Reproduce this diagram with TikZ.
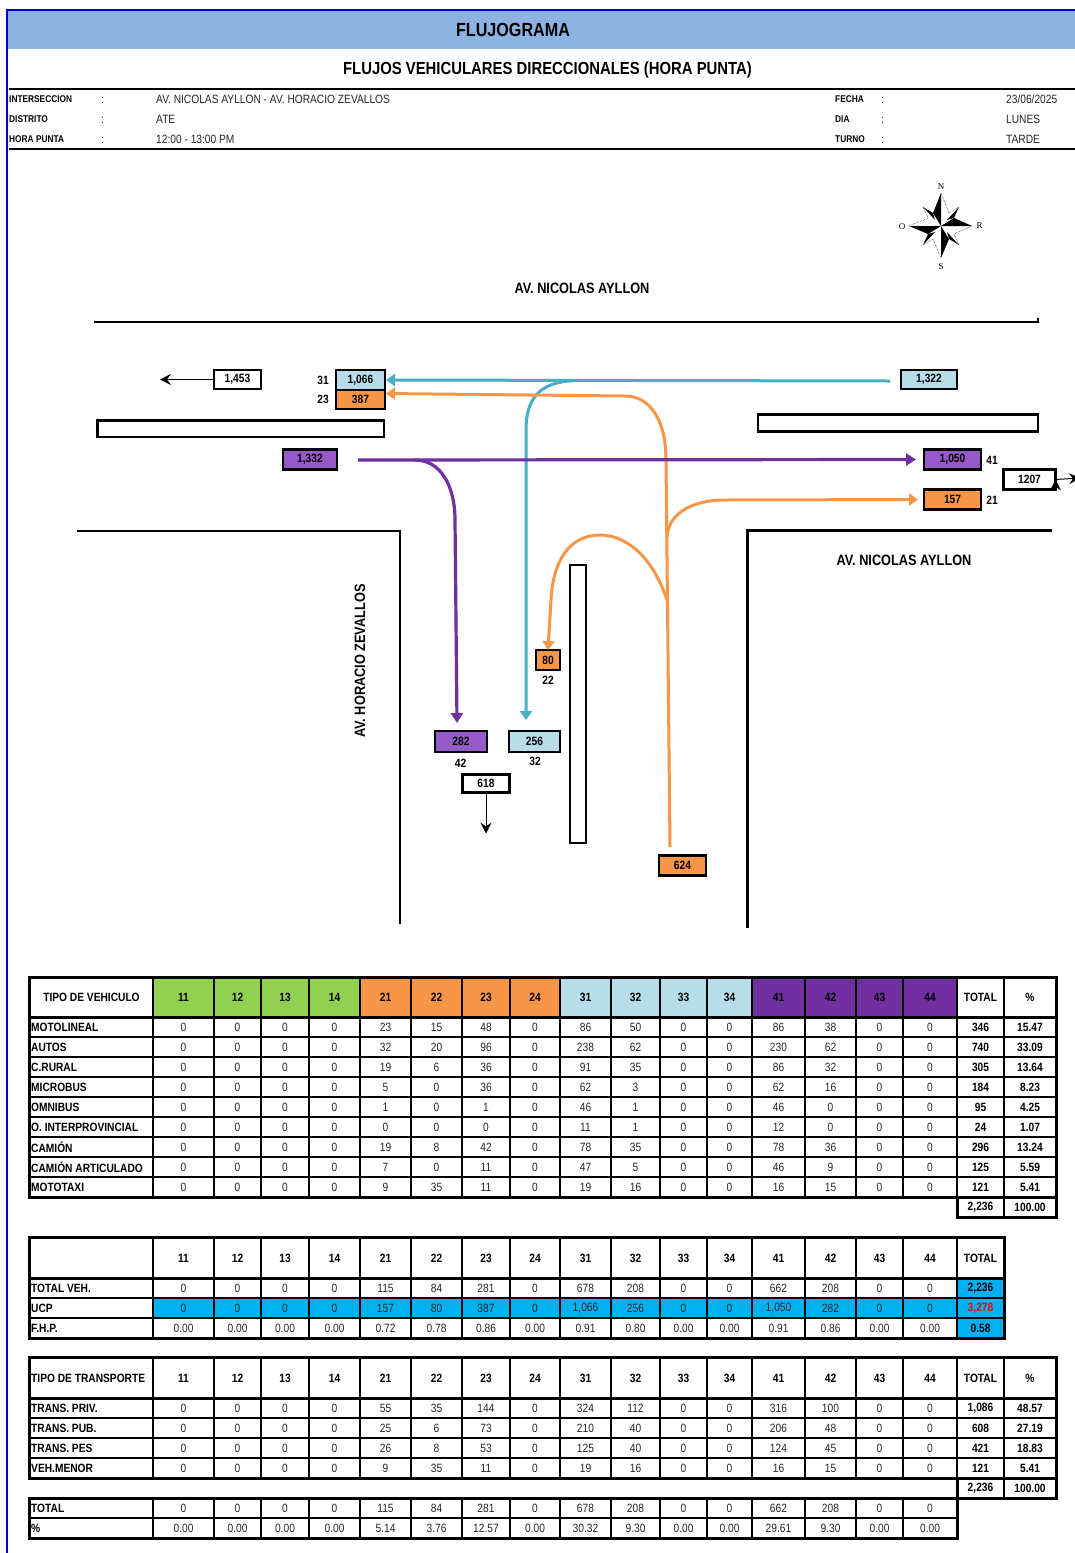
\documentclass[tikz,border=0pt]{standalone}
\usepackage{fontspec}
\setmainfont[FakeStretch=0.85]{Liberation Sans}
\newfontfamily\compassfont{Liberation Serif}
\usetikzlibrary{arrows.meta}
\definecolor{bandblue}{HTML}{8DB3E2}
\definecolor{framblue}{HTML}{0000C8}
\definecolor{hgreen}{HTML}{92D050}
\definecolor{horange}{HTML}{F79646}
\definecolor{hlight}{HTML}{B7DDE8}
\definecolor{hpurple}{HTML}{7030A0}
\definecolor{boxpurple}{HTML}{9559C8}
\definecolor{lteal}{HTML}{4BACC6}
\definecolor{ucpblue}{HTML}{00B0F0}
\definecolor{txtgray}{HTML}{262626}
\def\colx{{183.5,237.5,285,334.5,385.5,436.5,486,535,585.5,635.5,683.5,729.5,778.5,830.5,879.5,930,980.5,1030}}
\newcommand\fpx[1]{\fontsize{#1}{#1}\selectfont}
\newcommand\datarow[5][]{%
  \node[rowlab] (#2L) at (31,#3) {#4};
  \foreach \v [count=\i] in {#5} {
    \pgfmathsetmacro\cx{\colx[\i-1]}
    \ifnum\i>16\relax
      \node[cellb,#1] (#2c\i) at (\cx,#3) {\v};
    \else
      \node[cell] (#2c\i) at (\cx,#3) {\v};
    \fi
  }%
}
\newcommand\headrow[2]{%
  \foreach \v [count=\i] in {11,12,13,14,21,22,23,24,31,32,33,34,41,42,43,44} {
    \pgfmathsetmacro\cx{\colx[\i-1]}
    \ifnum\i>12\relax
      \node[cellh,text=#2] (h#1c\i) at (\cx,#1) {\v};
    \else
      \node[cellh] (h#1c\i) at (\cx,#1) {\v};
    \fi
  }%
}
\tikzset{
  cell/.style={font=\fpx{12},text=txtgray,inner sep=0pt},
  cellb/.style={font=\fpx{12}\bfseries,text=black,inner sep=0pt},
  cellh/.style={font=\fpx{12}\bfseries,text=black,inner sep=0pt},
  rowlab/.style={font=\fpx{12}\bfseries,text=black,anchor=west,inner sep=0pt},
  infolab/.style={font=\fpx{9.8}\bfseries,anchor=west,inner sep=0pt},
  infoval/.style={font=\fpx{12},text=txtgray,anchor=west,inner sep=0pt},
  road/.style={font=\fpx{15}\bfseries,inner sep=0pt},
  vallab/.style={font=\fpx{12}\bfseries,inner sep=0pt},
  valbox/.style={draw=black,line width=2.6pt,inner sep=0pt,font=\fpx{12}\bfseries,outer sep=0pt},
  wall/.style={draw=black,line width=2.4pt,line cap=rect},
  tealway/.style={draw=lteal,line width=3pt,-{Triangle[length=9pt,width=12pt]}},
  orangeway/.style={draw=horange,line width=3pt,-{Triangle[length=9pt,width=12pt]}},
  purpleway/.style={draw=hpurple,line width=3.2pt,-{Triangle[length=10pt,width=12pt]}},
  exitway/.style={draw=black,line width=1pt,-{Stealth[length=11pt,width=11pt,inset=4pt]}},
  gv/.style={line width=2.5pt},
  gh/.style={line width=2pt},
  gt/.style={line width=3pt},
  ray/.style={line width=.5pt,densely dotted},
  cdir/.style={font=\compassfont\fpx{9},inner sep=0pt},
}
\begin{document}
\begin{tikzpicture}[x=1pt,y=-1pt]
\useasboundingbox (0,0) rectangle (1075,1553);
\clip (0,0) rectangle (1075,1553);
\fill[white] (0,0) rectangle (1075,1553);
% header
\fill[bandblue] (8,11) rectangle (1075,49);
\draw[framblue,line width=2.5pt] (1075,10) -- (7,10) -- (7,1553);
\node[font=\fpx{19}\bfseries,inner sep=0pt] (title) at (513,30) {FLUJOGRAMA};
\node[font=\fpx{17.5}\bfseries,inner sep=0pt] (subtitle) at (547.5,70) {FLUJOS VEHICULARES DIRECCIONALES (HORA PUNTA)};
\draw[line width=2.5pt] (9,89) -- (1075,89);
\draw[line width=2.5pt] (9,149) -- (1075,149);
\node[infolab] (i1) at (9,99.5) {INTERSECCION};
\node[infolab] (i2) at (9,119.5) {DISTRITO};
\node[infolab] (i3) at (9,139.5) {HORA PUNTA};
\node[infoval] (c1) at (101,100) {:};
\node[infoval] (c2) at (101,120) {:};
\node[infoval] (c3) at (101,140) {:};
\node[infoval] (v1) at (156,99.5) {AV. NICOLAS AYLLON - AV. HORACIO ZEVALLOS};
\node[infoval] (v2) at (156,119.5) {ATE};
\node[infoval] (v3) at (156,139.5) {12:00 - 13:00 PM};
\node[infolab] (i4) at (835,99.5) {FECHA};
\node[infolab] (i5) at (835,119.5) {DIA};
\node[infolab] (i6) at (835,139.5) {TURNO};
\node[infoval] (c4) at (881,100) {:};
\node[infoval] (c5) at (881,120) {:};
\node[infoval] (c6) at (881,140) {:};
\node[infoval] (v4) at (1006,99.5) {23/06/2025};
\node[infoval] (v5) at (1006,119.5) {LUNES};
\node[infoval] (v6) at (1006,139.5) {TARDE};
% compass
\begin{scope}[shift={(941,226)}]
  \draw[ray] (0,-33) -- (8,-13) (31,0) -- (13,8) (0,32) -- (-8,13) (-32,0) -- (-13,-8);
  \draw[ray] (-18,-19) -- (-13,-8) (18,-19) -- (8,-13) (18,19) -- (13,8) (-18,19) -- (-8,13);
  \fill (0,0) -- (0,-33) -- (-8,-13) -- cycle;
  \fill (0,0) -- (31,0) -- (13,-8) -- cycle;
  \fill (0,0) -- (0,32) -- (8,13) -- cycle;
  \fill (0,0) -- (-32,0) -- (-13,8) -- cycle;
  \fill (-18,-19) -- (-8,-13) -- (-6,-6) -- cycle;
  \fill (18,-19) -- (13,-8) -- (6,-6) -- cycle;
  \fill (18,19) -- (8,13) -- (6,6) -- cycle;
  \fill (-18,19) -- (-13,8) -- (-6,6) -- cycle;
\end{scope}
\node[cdir] (cn) at (941,186.5) {N};
\node[cdir] (cs) at (941,266.5) {S};
\node[cdir] (co) at (902,227) {O};
\node[cdir] (cr) at (979.5,226) {R};
% road geometry
\node[road] (rn1) at (582,288) {AV. NICOLAS AYLLON};
\node[road] (rn2) at (904,560) {AV. NICOLAS AYLLON};
\node[road,rotate=90] (rh) at (360,661) {AV. HORACIO ZEVALLOS};
\draw[wall] (95,322) -- (1038,322) -- (1038,319);
\draw[wall] (78,531) -- (400,531) -- (400,923);
\draw[wall] (1051,530.5) -- (747.5,530.5) -- (747.5,927);
\draw[wall,fill=white] (97.5,420.5) rectangle (384,437);
\draw[wall,fill=white] (758,414.5) rectangle (1038,431.5);
\draw[wall,fill=white] (570,565) rectangle (586,843);
% value boxes
\node[valbox,minimum width=47pt,minimum height=19pt] (n1453) at (237.5,379.5) {1,453};
\node[valbox,fill=hlight,minimum width=49pt,minimum height=20pt] (n1066) at (360.5,380) {1,066};
\node[valbox,fill=horange,minimum width=49pt,minimum height=19pt] (n387) at (360.5,399.5) {387};
\node[valbox,fill=boxpurple,minimum width=54pt,minimum height=20pt] (n1332) at (310,459.5) {1,332};
\node[valbox,fill=hlight,minimum width=56pt,minimum height=19pt] (n1322) at (929,379.5) {1,322};
\node[valbox,fill=boxpurple,minimum width=57pt,minimum height=20pt] (n1050) at (952.5,459.5) {1,050};
\node[valbox,fill=horange,minimum width=57pt,minimum height=19.5pt] (n157) at (952.5,499.5) {157};
\node[valbox,minimum width=52pt,minimum height=19.5pt] (n1207) at (1029.5,479.5) {1207};
\node[valbox,fill=horange,minimum width=24pt,minimum height=20pt] (n80) at (548,660) {80};
\node[valbox,fill=boxpurple,minimum width=52pt,minimum height=21pt] (n282) at (461,741.5) {282};
\node[valbox,fill=hlight,minimum width=51pt,minimum height=21pt] (n256) at (534.5,741.5) {256};
\node[valbox,minimum width=47pt,minimum height=18.5pt] (n618) at (486,783.5) {618};
\node[valbox,fill=horange,minimum width=47pt,minimum height=20pt] (n624) at (682.5,865.5) {624};
\node[vallab] (l31) at (323,380) {31};
\node[vallab] (l23) at (323,399.5) {23};
\node[vallab] (l41) at (992,460) {41};
\node[vallab] (l21) at (992,500) {21};
\node[vallab] (l22) at (548,680.5) {22};
\node[vallab] (l42) at (460.5,763.5) {42};
\node[vallab] (l32) at (535,761.5) {32};
% connectors
\coordinate (teal0) at (890,381);
\coordinate (teal1) at (580,380.5);
\coordinate (teal2) at (526,720);
\coordinate (or0) at (670,847);
\coordinate (orA) at (667,600);
\coordinate (orB) at (667,537);
\coordinate (pu0) at (358,460);
\coordinate (pu1) at (415,460);
\coordinate (x1453) at (160,379.5);
\coordinate (x618) at (486,833.5);
\coordinate (x1207) at (1080,478);
\path[exitway] (n1453.west) edge (x1453) (n618.south) edge (x618) (n1207.east) edge (x1207);
\draw[tealway,shorten >=1pt] (teal0) -- (n1066.east);
\draw[tealway] (teal1) .. controls (545,380.5) and (526,393) .. (526,430) -- (teal2);
\draw[orangeway,shorten >=1pt] (or0) -- (666,460) .. controls (666,420) and (650,396) .. (625,396) -- ([yshift=-3.5pt]n1066.south east);
\draw[orangeway,shorten >=6pt] (orB) .. controls (668,515) and (690,500) .. (725,500) -- (n157.west);
\draw[orangeway] (orA) .. controls (652,555) and (625,535) .. (600,535) .. controls (570,535) and (553,560) .. (551,600) -- (n80.north);
\draw[purpleway,shorten >=8pt] (pu0) -- (n1050.west);
\draw[draw=hpurple,line width=3.2pt,-{Triangle[length=10pt,width=12pt]}] (pu1) .. controls (440,460) and (455,485) .. (455,520) -- (457,723);
% ------------- table 1 -------------
\fill[hgreen] (153,977) rectangle (360,1017);
\fill[horange] (360,977) rectangle (560,1017);
\fill[hlight] (560,977) rectangle (752,1017);
\fill[hpurple] (752,977) rectangle (957,1017);
\foreach \x in {153,214,261,309,360,411,462,510,560,611,660,707,752,805,856,903,957,1004}
  \draw[gv] (\x,977) -- (\x,1197);
\foreach \y in {1037,1057,1077,1097,1117,1137,1157,1177}
  \draw[gh] (29,\y) -- (1056,\y);
\draw[gv] (957,1197) -- (957,1217) (1004,1197) -- (1004,1217);
\draw[gt] (29,1017) -- (1056,1017);
\draw[gt] (29,977) rectangle (1056,1197);
\draw[gt] (957,1197) rectangle (1056,1217);
\node[cellh] (t1head) at (91.5,997) {TIPO DE VEHICULO};
\headrow{997}{black}
\node[cellh] (t1tot) at (980.5,997) {TOTAL};
\node[cellh] (t1pct) at (1030,997) {\%};
\datarow{ra}{1027}{MOTOLINEAL}{0,0,0,0,23,15,48,0,86,50,0,0,86,38,0,0,346,15.47}
\datarow{rb}{1047}{AUTOS}{0,0,0,0,32,20,96,0,238,62,0,0,230,62,0,0,740,33.09}
\datarow{rc}{1067}{C.RURAL}{0,0,0,0,19,6,36,0,91,35,0,0,86,32,0,0,305,13.64}
\datarow{rd}{1087}{MICROBUS}{0,0,0,0,5,0,36,0,62,3,0,0,62,16,0,0,184,8.23}
\datarow{re}{1107}{OMNIBUS}{0,0,0,0,1,0,1,0,46,1,0,0,46,0,0,0,95,4.25}
\datarow{rf}{1127}{O. INTERPROVINCIAL}{0,0,0,0,0,0,0,0,11,1,0,0,12,0,0,0,24,1.07}
\datarow{rg}{1147}{CAMIÓN}{0,0,0,0,19,8,42,0,78,35,0,0,78,36,0,0,296,13.24}
\datarow{rh}{1167}{CAMIÓN ARTICULADO}{0,0,0,0,7,0,11,0,47,5,0,0,46,9,0,0,125,5.59}
\datarow{ri}{1187}{MOTOTAXI}{0,0,0,0,9,35,11,0,19,16,0,0,16,15,0,0,121,5.41}
\node[cellb] (t1sum) at (980.5,1207) {2,236};
\node[cellb] (t1sump) at (1030,1207) {100.00};
% ------------- table 2 -------------
\fill[ucpblue] (153,1298) rectangle (957,1318);
\fill[ucpblue] (957,1278) rectangle (1004,1338);
\foreach \x in {153,214,261,309,360,411,462,510,560,611,660,707,752,805,856,903,957}
  \draw[gv] (\x,1237) -- (\x,1338);
\foreach \y in {1298,1318}
  \draw[gh] (29,\y) -- (1004,\y);
\draw[gt] (29,1278) -- (1004,1278);
\draw[gt] (29,1237) rectangle (1004,1338);
\headrow{1258}{black}
\node[cellh] (t2tot) at (980.5,1258) {TOTAL};
\datarow{sa}{1288}{TOTAL VEH.}{0,0,0,0,115,84,281,0,678,208,0,0,662,208,0,0,2{,}236}
\datarow[text=red]{sb}{1308}{UCP}{0,0,0,0,157,80,387,0,1{,}066,256,0,0,1{,}050,282,0,0,3{,}278}
\datarow{sc}{1328}{F.H.P.}{0.00,0.00,0.00,0.00,0.72,0.78,0.86,0.00,0.91,0.80,0.00,0.00,0.91,0.86,0.00,0.00,0.58}
% ------------- table 3 -------------
\foreach \x in {153,214,261,309,360,411,462,510,560,611,660,707,752,805,856,903,957,1004}
  \draw[gv] (\x,1357) -- (\x,1478);
\foreach \y in {1418,1438,1458}
  \draw[gh] (29,\y) -- (1056,\y);
\draw[gv] (957,1478) -- (957,1498) (1004,1478) -- (1004,1498);
\draw[gt] (29,1398) -- (1056,1398);
\draw[gt] (29,1357) rectangle (1056,1478);
\draw[gt] (957,1478) rectangle (1056,1498);
\node[rowlab] (t3head) at (31,1378) {TIPO DE TRANSPORTE};
\headrow{1378}{black}
\node[cellh] (t3tot) at (980.5,1378) {TOTAL};
\node[cellh] (t3pct) at (1030,1378) {\%};
\datarow{ua}{1408}{TRANS. PRIV.}{0,0,0,0,55,35,144,0,324,112,0,0,316,100,0,0,1{,}086,48.57}
\datarow{ub}{1428}{TRANS. PUB.}{0,0,0,0,25,6,73,0,210,40,0,0,206,48,0,0,608,27.19}
\datarow{uc}{1448}{TRANS. PES}{0,0,0,0,26,8,53,0,125,40,0,0,124,45,0,0,421,18.83}
\datarow{ud}{1468}{VEH.MENOR}{0,0,0,0,9,35,11,0,19,16,0,0,16,15,0,0,121,5.41}
\node[cellb] (t3sum) at (980.5,1488) {2,236};
\node[cellb] (t3sump) at (1030,1488) {100.00};
% ------------- table 4 -------------
\foreach \x in {153,214,261,309,360,411,462,510,560,611,660,707,752,805,856,903}
  \draw[line width=1.6pt] (\x,1498) -- (\x,1538);
\draw[gh] (29,1518) -- (957,1518);
\draw[gt] (29,1498) rectangle (957,1538);
\datarow{va}{1508}{TOTAL}{0,0,0,0,115,84,281,0,678,208,0,0,662,208,0,0}
\datarow{vb}{1528}{\%}{0.00,0.00,0.00,0.00,5.14,3.76,12.57,0.00,30.32,9.30,0.00,0.00,29.61,9.30,0.00,0.00}
\end{tikzpicture}
\end{document}
